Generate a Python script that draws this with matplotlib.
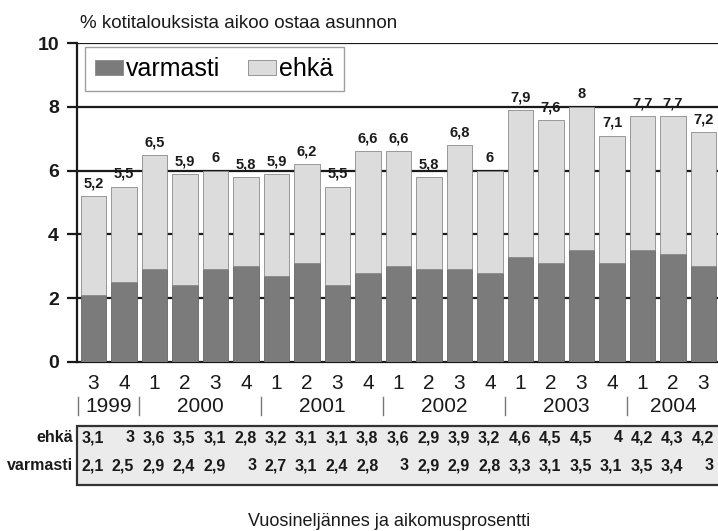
import matplotlib
matplotlib.use("Agg")
import matplotlib.pyplot as plt
from matplotlib.patches import Rectangle, Patch

plt.rcParams['font.family'] = ['Liberation Sans Narrow', 'Liberation Sans', 'DejaVu Sans']

# Quarterly survey data, 1999 Q3 - 2004 Q3
quarters = ["3", "4", "1", "2", "3", "4", "1", "2", "3", "4", "1", "2", "3", "4",
            "1", "2", "3", "4", "1", "2", "3"]
years = ["1999", "2000", "2001", "2002", "2003", "2004"]
year_spans = [(0, 1), (2, 5), (6, 9), (10, 13), (14, 17), (18, 20)]
varmasti = [2.1, 2.5, 2.9, 2.4, 2.9, 3.0, 2.7, 3.1, 2.4, 2.8, 3.0, 2.9, 2.9, 2.8,
            3.3, 3.1, 3.5, 3.1, 3.5, 3.4, 3.0]
ehka = [3.1, 3.0, 3.6, 3.5, 3.1, 2.8, 3.2, 3.1, 3.1, 3.8, 3.6, 2.9, 3.9, 3.2,
        4.6, 4.5, 4.5, 4.0, 4.2, 4.3, 4.2]
y_ticks = [0, 2, 4, 6, 8, 10]

DARK = "#7b7b7b"
LIGHT = "#dcdcdc"
TABLE_BG = "#ebebeb"
INK = "#1a1a1a"


def fi(v):
    v = round(v, 1)
    if abs(v - round(v)) < 1e-9:
        return str(int(round(v)))
    return f"{v:.1f}".replace(".", ",")


fig = plt.figure(figsize=(7.18, 5.31), dpi=100)
ax = fig.add_axes([77 / 718, 1 - 362 / 531, 641 / 718, 319 / 531])

x = list(range(len(quarters)))
totals = [v + e for v, e in zip(varmasti, ehka)]
w = 0.85

# gridlines behind the bars
for t in y_ticks[1:]:
    ax.axhline(t, color=INK, lw=1.6, zorder=1)

ax.bar(x, varmasti, width=w, color=DARK, edgecolor="#666666", lw=0.6, zorder=3)
ax.bar(x, ehka, bottom=varmasti, width=w, color=LIGHT, edgecolor="#8a8a8a", lw=0.6, zorder=3)

for xi, tot in zip(x, totals):
    ax.annotate(fi(tot), (xi, tot), xytext=(0, 4), textcoords="offset points",
                ha="center", va="bottom", fontsize=10.5, fontweight="bold", color=INK,
                zorder=5)

ax.set_xlim(-0.54, 20.475)
ax.set_ylim(0, 10)
ax.set_yticks(y_ticks)
ax.set_yticklabels([str(t) for t in y_ticks], fontsize=14, fontweight="bold", color=INK)
ax.tick_params(axis="y", length=7, width=1.6, color=INK, pad=6)
ax.set_xticks([])
for s in ["top", "right"]:
    ax.spines[s].set_visible(False)
ax.spines["left"].set_color(INK)
ax.spines["left"].set_linewidth(1.6)
ax.spines["bottom"].set_color(INK)
ax.spines["bottom"].set_linewidth(1.6)

tr = ax.get_xaxis_transform()

# quarter numbers
for xi, q in zip(x, quarters):
    ax.text(xi, -0.066, q, transform=tr, ha="center", va="center", fontsize=15,
            color=INK, clip_on=False)

# year labels and separators
for (a, b), yr in zip(year_spans, years):
    ax.text((a + b) / 2, -0.138, yr, transform=tr, ha="center", va="center",
            fontsize=15, color=INK, clip_on=False)
    ax.plot([a - 0.5, a - 0.5], [-0.110, -0.166], transform=tr, color="#777777",
            lw=1.0, clip_on=False)

# data table below the axis
table_box = Rectangle((-0.54, -0.3856), 21.1, 0.185, transform=tr, facecolor=TABLE_BG,
                      edgecolor="#333333", lw=1.6, clip_on=False, zorder=1)
ax.add_patch(table_box)
rows = [("ehkä", ehka, -0.238), ("varmasti", varmasti, -0.326)]
for name, vals, yy in rows:
    ax.text(-0.67, yy, name, transform=tr, ha="right", va="center", fontsize=11.5,
            fontweight="bold", color=INK, clip_on=False)
    for xi, v in zip(x, vals):
        ax.text(xi + 0.34, yy, fi(v), transform=tr, ha="right", va="center",
                fontsize=11.5, fontweight="bold", color=INK, clip_on=False, zorder=3)

# legend
handles = [Patch(facecolor=DARK, edgecolor="#888888", lw=0.6, label="varmasti"),
           Patch(facecolor=LIGHT, edgecolor="#888888", lw=0.6, label="ehkä")]
leg = ax.legend(handles=handles, loc="upper left", bbox_to_anchor=(0.0125, 0.987),
                ncol=2, fontsize=18, frameon=True, fancybox=False, handlelength=1.1,
                handleheight=0.55, handletextpad=0.15, columnspacing=1.1,
                borderpad=0.4, borderaxespad=0)
leg.get_frame().set_edgecolor("#888888")
leg.get_frame().set_linewidth(1.0)
leg.set_zorder(6)

fig.text(80 / 718, 1 - 23 / 531, "% kotitalouksista aikoo ostaa asunnon", ha="left",
         va="center", fontsize=13.5, color=INK)
fig.text(389 / 718, 1 - 521 / 531, "Vuosineljännes ja aikomusprosentti", ha="center",
         va="center", fontsize=13, color=INK)

fig.savefig("out.png", dpi=100)
